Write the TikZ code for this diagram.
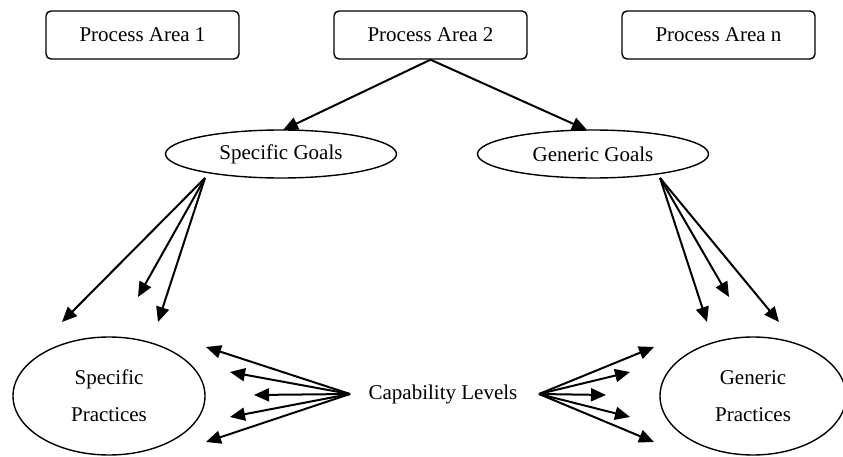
\documentclass[tikz,border=0pt]{standalone}
\usepackage{fontspec}
\setmainfont{Liberation Serif}
\usetikzlibrary{arrows.meta,shapes.geometric}

\tikzset{
    areabox/.style={draw, line width=1.4pt, rounded corners=5pt,
        minimum width=193pt, minimum height=48pt, inner sep=0pt},
    goaloval/.style={draw, ellipse, line width=1.4pt,
        minimum width=231pt, minimum height=48pt, inner sep=0pt},
    practoval/.style={draw, ellipse, line width=1.4pt, align=center,
        minimum width=192pt, minimum height=118pt, inner sep=0pt},
    link/.style={line width=2pt, -{Triangle[length=15pt,width=13pt]}}
}

\begin{document}
\begin{tikzpicture}[x=1pt, y=-1pt, font=\fontsize{21}{37}\selectfont]
    \useasboundingbox (0, 0) rectangle (843, 457);

    % process areas
    \node [areabox] (pa1) at (142.5, 35) {Process Area 1};
    \node [areabox] (pa2) at (430.5, 35) {Process Area 2};
    \node [areabox] (pan) at (718.5, 35) {Process Area n};

    % goals
    \node [goaloval] (sg) at (281, 154) {Specific Goals};
    \node [goaloval] (gg) at (593, 154) {Generic Goals};

    % practices and capability levels
    \node [practoval] (sp) at (109, 396) {Specific\\Practices};
    \node [practoval, minimum width=186pt] (gp) at (753, 396) {Generic\\Practices};
    \node [inner sep=0pt] (cap) at (443, 394) {Capability Levels};

    \coordinate (sgfoot) at (205, 178);
    \coordinate (ggfoot) at (660, 178);
    \coordinate (capl) at (350, 394);
    \coordinate (capr) at (539, 394);

    \draw [link] (pa2.south) -- (283, 130);
    \draw [link] (pa2.south) -- (587, 130);

    \foreach \tx/\ty in {62/322, 138/297, 158/322}
        \draw [link] (sgfoot) -- (\tx, \ty);
    \foreach \tx/\ty in {707/322, 729/297, 779/322}
        \draw [link] (ggfoot) -- (\tx, \ty);

    \foreach \ty/\tx in {347/206, 372/230, 395/254, 417/230, 442/206} {
        \draw [link] (capl) -- (\tx, \ty);
        \draw [link] (capr) -- (843 - \tx + 17, \ty);
    }
\end{tikzpicture}
\end{document}
